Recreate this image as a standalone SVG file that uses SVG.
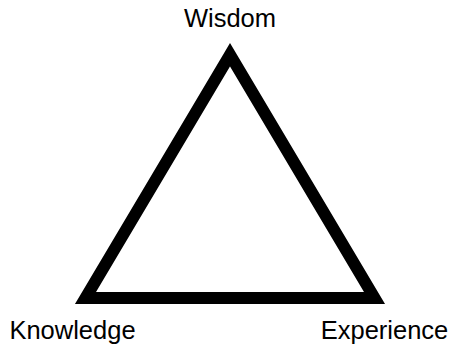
<svg xmlns="http://www.w3.org/2000/svg" width="453" height="345" viewBox="0 0 453 345">
<style>
.lbl{font-family:"Liberation Sans",Arial,sans-serif;font-size:25.5px;fill:#000;text-anchor:middle}
.tri{fill:none;stroke:#000;stroke-width:12;stroke-linejoin:miter;stroke-miterlimit:10}
</style>
<rect width="453" height="345" fill="#fff"/>
<g id="triangle">
<polygon class="tri" points="230,54.8 85.5,298 374.5,298"/>
</g>
<g id="connectors"></g>
<g id="wisdom"><text class="lbl" x="230" y="27">Wisdom</text></g>
<g id="knowledge"><text class="lbl" x="72.5" y="338.5">Knowledge</text></g>
<g id="experience"><text class="lbl" x="384.5" y="338.5">Experience</text></g>
</svg>
